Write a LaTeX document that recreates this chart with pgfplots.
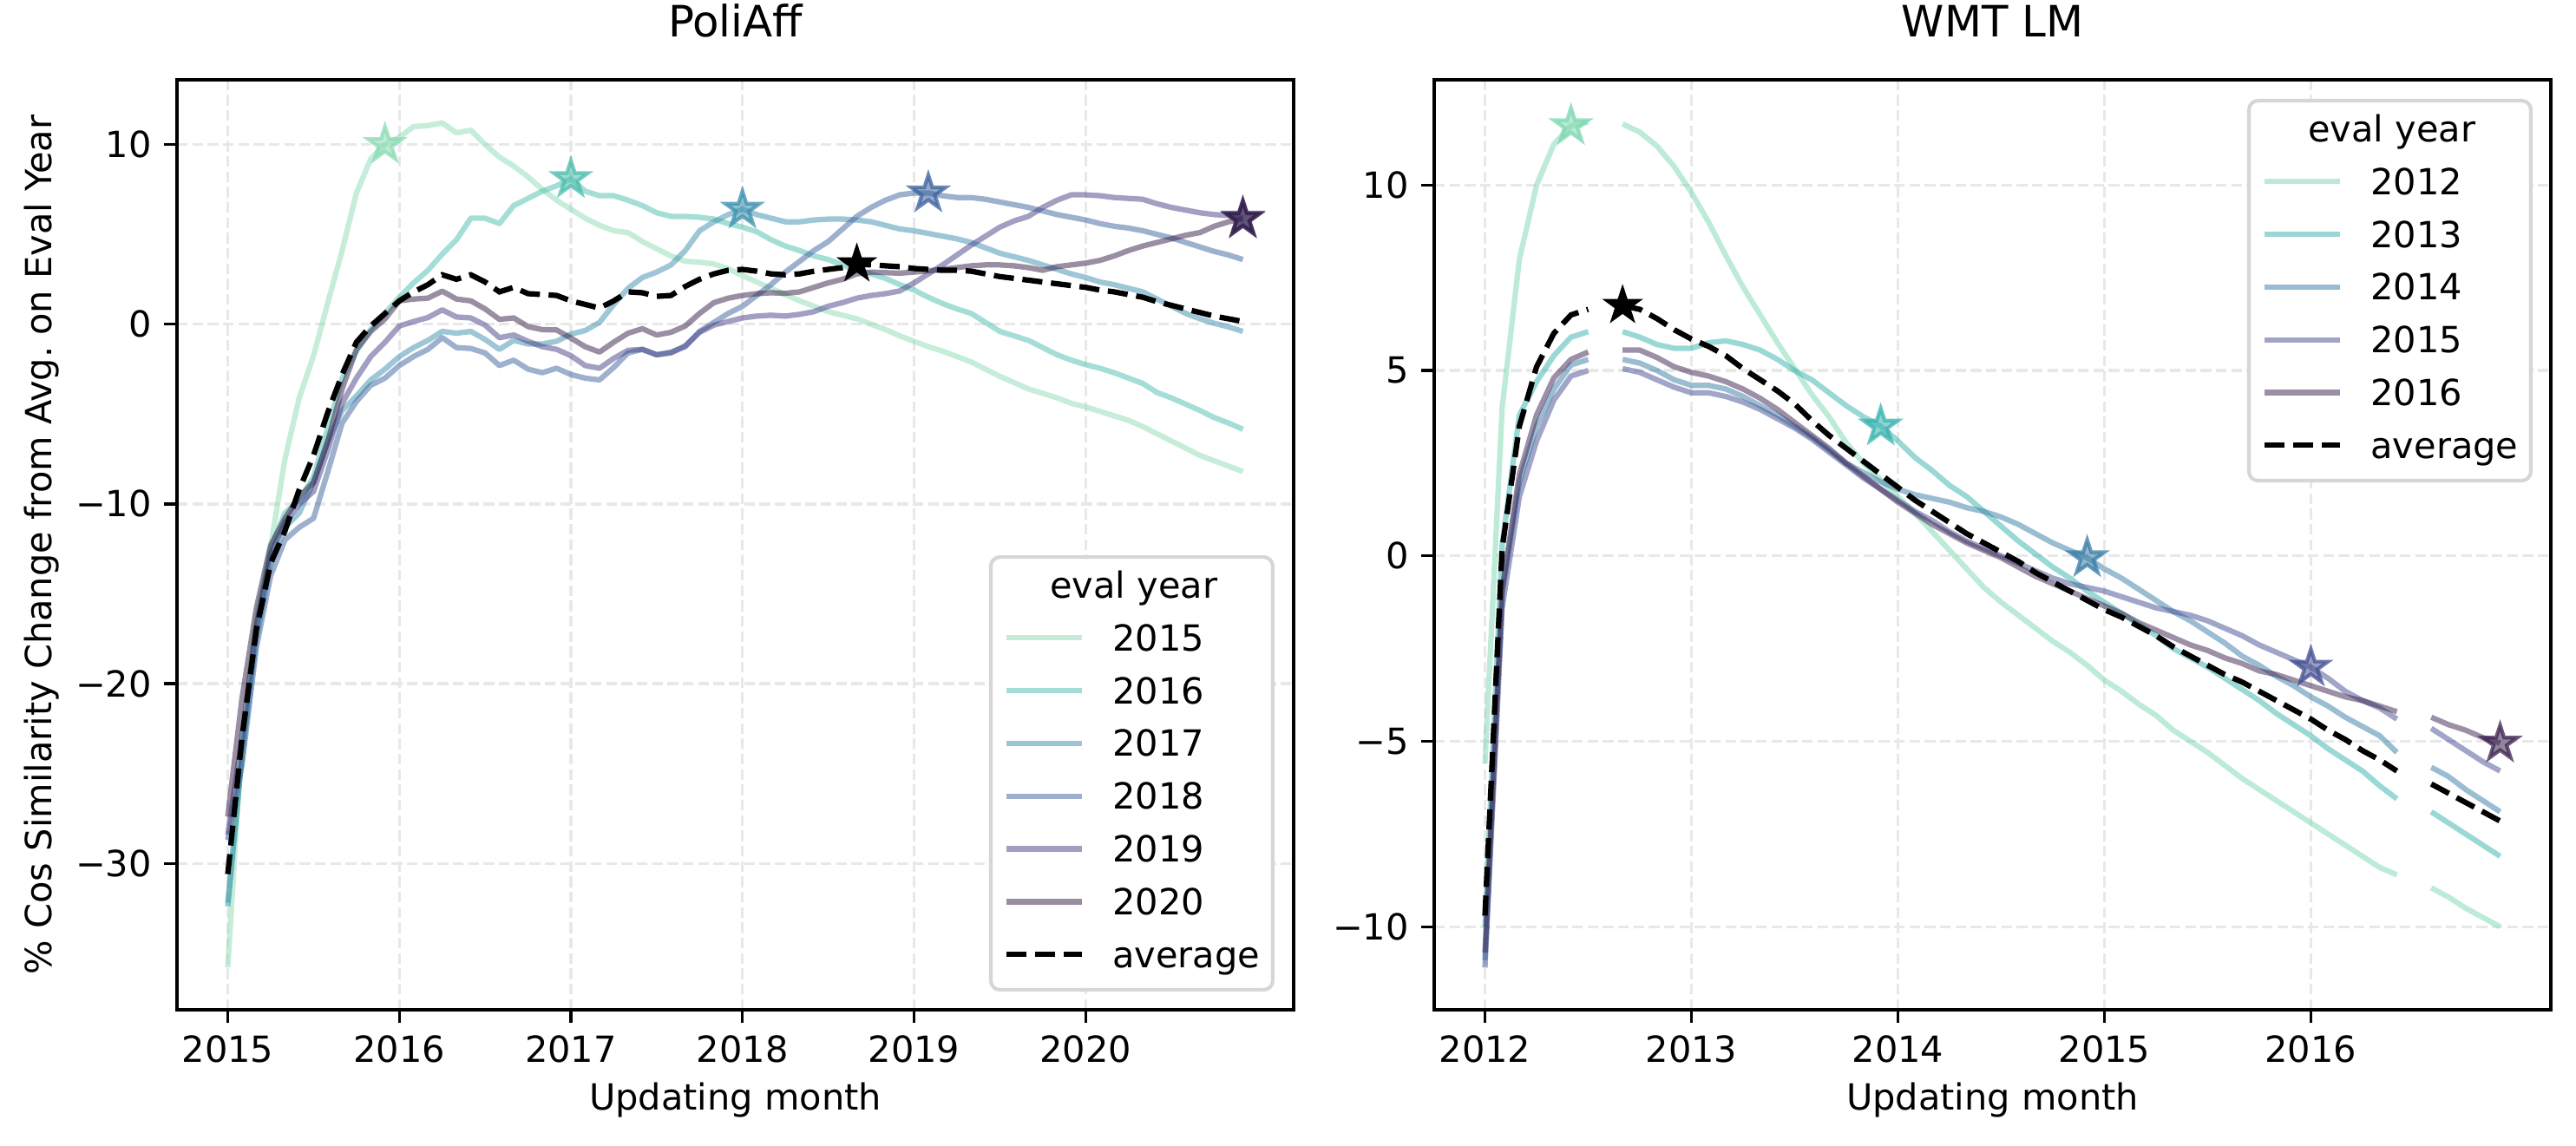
\documentclass[border=0pt]{standalone}
\usepackage{fontspec}
\setmainfont{DejaVu Sans}
\usepackage{pgfplots}
\pgfplotsset{compat=1.18}

% mako_r colours (drawn at alpha 0.5)
\definecolor{c15}{HTML}{8BDBB3}
\definecolor{c16}{HTML}{4BBDAD}
\definecolor{c17}{HTML}{3B8FAD}
\definecolor{c18}{HTML}{3B619D}
\definecolor{c19}{HTML}{453F85}
\definecolor{c20}{HTML}{331D45}
\definecolor{r12}{HTML}{7BD7AF}
\definecolor{r13}{HTML}{35B1AD}
\definecolor{r14}{HTML}{377BA5}
\definecolor{r15}{HTML}{434D91}
\definecolor{r16}{HTML}{3B214D}
\definecolor{gridc}{HTML}{E8E8E8}
\definecolor{legc}{HTML}{D6D6D6}

% filled five-pointed star
\pgfdeclareplotmark{fstar}{%
  \pgfpathmoveto{\pgfpointpolar{90}{\pgfplotmarksize}}%
  \pgfpathlineto{\pgfpointpolar{126}{0.382\pgfplotmarksize}}%
  \pgfpathlineto{\pgfpointpolar{162}{\pgfplotmarksize}}%
  \pgfpathlineto{\pgfpointpolar{198}{0.382\pgfplotmarksize}}%
  \pgfpathlineto{\pgfpointpolar{234}{\pgfplotmarksize}}%
  \pgfpathlineto{\pgfpointpolar{270}{0.382\pgfplotmarksize}}%
  \pgfpathlineto{\pgfpointpolar{306}{\pgfplotmarksize}}%
  \pgfpathlineto{\pgfpointpolar{342}{0.382\pgfplotmarksize}}%
  \pgfpathlineto{\pgfpointpolar{18}{\pgfplotmarksize}}%
  \pgfpathlineto{\pgfpointpolar{54}{0.382\pgfplotmarksize}}%
  \pgfpathclose
  \pgfusepath{fill,stroke}%
}

\pgfplotsset{
  panel/.style={
    scale only axis, width=308.88bp, height=257.28bp,
    axis line style={line width=0.8bp, black},
    tick align=outside, xtick pos=bottom, ytick pos=left,
    major tick length=3.5bp,
    every tick/.style={black, line width=0.8bp},
    xmajorgrids, ymajorgrids,
    major grid style={line width=0.8bp, gridc, dash pattern=on 2.96bp off 1.28bp},
    tick label style={font=\fontsize{10}{12}\selectfont},
    label style={font=\fontsize{10}{12}\selectfont},
    title style={font=\fontsize{12}{14}\selectfont, at={(axis description cs:0.5,1.0229)}, anchor=base},
    xlabel style={at={(axis description cs:0.5,-0.1082)}, anchor=base},
    xlabel={Updating month},
    unbounded coords=jump,
    legend cell align=left,
    legend image code/.code={\draw[#1] (0bp,1bp) -- (21bp,1bp);},
    legend style={draw=legc, line width=1bp, rounded corners=2.5bp, fill=white,
      inner xsep=3.5bp, inner ysep=3.75bp, row sep=4.6bp,
      font=\fontsize{10}{12}\selectfont,
      nodes={inner sep=0bp, text height=7.6bp, text depth=2.4bp},
      /tikz/every odd column/.append style={column sep=7.7bp}},
  },
  yr/.style={line width=1.5bp, opacity=0.5, line join=round, #1},
  avg/.style={line width=1.5bp, black, dash pattern=on 5.55bp off 2.4bp},
  st/.style={forget plot, only marks, mark=fstar, mark size=5bp,
    mark options={draw=#1, fill=#1, fill opacity=0.55, draw opacity=0.75, line width=1bp}},
}

\begin{document}
\begin{tikzpicture}

%%%%%%%%%%%%%%%% PoliAff
\begin{axis}[panel, at={(0,0)},
  title={PoliAff},
  xmin=-3.55, xmax=74.55, ymin=-38.15, ymax=13.6,
  xtick={0,12,24,36,48,60}, xticklabels={2015,2016,2017,2018,2019,2020},
  ytick={-30,-20,-10,0,10}, yticklabels={−30,−20,−10,0,10},
  ylabel={\% Cos Similarity Change from Avg.\ on Eval Year},
  ylabel style={at={(axis description cs:-0.1119,0.5)}, anchor=base},
  legend style={at={(axis description cs:0.9829,0.0196)}, anchor=south east},
]
\addlegendimage{empty legend}
\addlegendentry{\hspace*{-17.3bp}eval year}

\addplot[yr=c15] coordinates {
(0,-35.8)(1,-23)(2,-16.3)(3,-12.4)(4,-7.5)(5,-4.1)(6,-1.75)(7,1.2)(8,4.1)(9,7.3)(10,9.2)(11,10.0)
(12,10.4)(13,11.0)(14,11.05)(15,11.2)(16,10.65)(17,10.8)(18,10.0)(19,9.3)(20,8.8)(21,8.2)(22,7.5)(23,6.9)
(24,6.4)(25,5.9)(26,5.5)(27,5.2)(28,5.1)(29,4.6)(30,4.2)(31,3.8)(32,3.5)(33,3.45)(34,3.35)(35,3.1)
(36,2.7)(37,2.35)(38,2.0)(39,1.65)(40,1.3)(41,1.0)(42,0.7)(43,0.5)(44,0.3)(45,0.0)(46,-0.3)(47,-0.65)
(48,-0.95)(49,-1.25)(50,-1.5)(51,-1.8)(52,-2.1)(53,-2.5)(54,-2.9)(55,-3.25)(56,-3.6)(57,-3.85)(58,-4.1)(59,-4.4)
(60,-4.6)(61,-4.85)(62,-5.1)(63,-5.35)(64,-5.7)(65,-6.1)(66,-6.5)(67,-6.9)(68,-7.3)(69,-7.6)(70,-7.9)(71,-8.2)};
\addlegendentry{2015}
\addplot[yr=c16] coordinates {
(0,-32.2)(1,-24)(2,-17)(3,-12.5)(4,-10.5)(5,-9.8)(6,-8.5)(7,-5.8)(8,-3.0)(9,-1.5)(10,-0.3)(11,0.6)
(12,1.5)(13,2.3)(14,3.0)(15,3.9)(16,4.7)(17,5.9)(18,5.9)(19,5.6)(20,6.6)(21,7.0)(22,7.4)(23,7.7)
(24,8.1)(25,7.4)(26,7.15)(27,7.15)(28,6.9)(29,6.6)(30,6.2)(31,6.0)(32,6.0)(33,5.95)(34,5.85)(35,5.6)
(36,5.4)(37,5.15)(38,4.7)(39,4.35)(40,4.1)(41,3.8)(42,3.6)(43,3.3)(44,3.0)(45,2.8)(46,2.55)(47,2.2)
(48,1.9)(49,1.5)(50,1.15)(51,0.85)(52,0.6)(53,0.1)(54,-0.4)(55,-0.65)(56,-0.9)(57,-1.3)(58,-1.7)(59,-2.0)
(60,-2.25)(61,-2.45)(62,-2.7)(63,-3.0)(64,-3.3)(65,-3.8)(66,-4.1)(67,-4.45)(68,-4.8)(69,-5.2)(70,-5.5)(71,-5.85)};
\addlegendentry{2016}
\addplot[yr=c17] coordinates {
(0,-32.4)(1,-24)(2,-17.5)(3,-13.3)(4,-11.3)(5,-10.5)(6,-8.8)(7,-6.5)(8,-4.8)(9,-4.0)(10,-3.1)(11,-2.5)
(12,-1.8)(13,-1.3)(14,-0.9)(15,-0.4)(16,-0.5)(17,-0.4)(18,-0.85)(19,-1.4)(20,-0.9)(21,-1.1)(22,-1.1)(23,-0.95)
(24,-0.55)(25,-0.35)(26,0.1)(27,1.1)(28,2.0)(29,2.6)(30,2.9)(31,3.3)(32,4.1)(33,5.2)(34,5.7)(35,6.1)
(36,6.4)(37,6.1)(38,5.9)(39,5.7)(40,5.7)(41,5.8)(42,5.85)(43,5.85)(44,5.8)(45,5.7)(46,5.5)(47,5.3)
(48,5.2)(49,5.05)(50,4.9)(51,4.75)(52,4.55)(53,4.25)(54,3.95)(55,3.75)(56,3.55)(57,3.3)(58,3.05)(59,2.8)
(60,2.6)(61,2.35)(62,2.2)(63,2.0)(64,1.8)(65,1.4)(66,1.0)(67,0.6)(68,0.3)(69,0.05)(70,-0.15)(71,-0.4)};
\addlegendentry{2017}
\addplot[yr=c18] coordinates {
(0,-28.7)(1,-24.5)(2,-18)(3,-14)(4,-12)(5,-11.3)(6,-10.8)(7,-8.2)(8,-5.5)(9,-4.3)(10,-3.4)(11,-3.0)
(12,-2.3)(13,-1.8)(14,-1.4)(15,-0.75)(16,-1.3)(17,-1.35)(18,-1.6)(19,-2.3)(20,-2.0)(21,-2.5)(22,-2.7)(23,-2.45)
(24,-2.8)(25,-3.0)(26,-3.1)(27,-2.4)(28,-1.6)(29,-1.4)(30,-1.7)(31,-1.55)(32,-1.25)(33,-0.4)(34,0.1)(35,0.6)
(36,1.0)(37,1.6)(38,2.2)(39,2.9)(40,3.5)(41,4.1)(42,4.6)(43,5.3)(44,6.0)(45,6.5)(46,6.9)(47,7.2)
(48,7.3)(49,7.3)(50,7.15)(51,7.05)(52,7.05)(53,6.95)(54,6.8)(55,6.65)(56,6.5)(57,6.3)(58,6.1)(59,5.95)
(60,5.8)(61,5.6)(62,5.45)(63,5.35)(64,5.2)(65,5.0)(66,4.8)(67,4.55)(68,4.3)(69,4.05)(70,3.85)(71,3.6)};
\addlegendentry{2018}
\addplot[yr=c19] coordinates {
(0,-28.4)(1,-23)(2,-16.8)(3,-12.8)(4,-11.0)(5,-10.0)(6,-9.3)(7,-7.0)(8,-4.4)(9,-3.0)(10,-1.8)(11,-1.0)
(12,-0.1)(13,0.15)(14,0.37)(15,0.8)(16,0.4)(17,0.35)(18,-0.05)(19,-0.75)(20,-0.6)(21,-0.95)(22,-1.25)(23,-1.4)
(24,-1.75)(25,-2.3)(26,-2.45)(27,-1.9)(28,-1.45)(29,-1.4)(30,-1.7)(31,-1.6)(32,-1.2)(33,-0.45)(34,-0.05)(35,0.15)
(36,0.35)(37,0.45)(38,0.5)(39,0.45)(40,0.55)(41,0.7)(42,1.0)(43,1.2)(44,1.45)(45,1.6)(46,1.7)(47,1.85)
(48,2.3)(49,2.8)(50,3.3)(51,3.85)(52,4.4)(53,4.9)(54,5.4)(55,5.75)(56,6.0)(57,6.5)(58,6.9)(59,7.2)
(60,7.2)(61,7.15)(62,7.05)(63,7.0)(64,6.95)(65,6.7)(66,6.5)(67,6.35)(68,6.2)(69,6.1)(70,6.05)(71,5.9)};
\addlegendentry{2019}
\addplot[yr=c20] coordinates {
(0,-27.4)(1,-20.8)(2,-15.8)(3,-12.3)(4,-10.8)(5,-9.6)(6,-8.8)(7,-6.5)(8,-3.6)(9,-1.4)(10,-0.4)(11,0.3)
(12,1.3)(13,1.4)(14,1.45)(15,1.84)(16,1.4)(17,1.3)(18,0.85)(19,0.27)(20,0.35)(21,-0.13)(22,-0.3)(23,-0.32)
(24,-0.77)(25,-1.25)(26,-1.55)(27,-1.0)(28,-0.5)(29,-0.25)(30,-0.6)(31,-0.45)(32,-0.1)(33,0.6)(34,1.2)(35,1.45)
(36,1.6)(37,1.7)(38,1.75)(39,1.72)(40,1.8)(41,2.05)(42,2.3)(43,2.5)(44,2.8)(45,2.9)(46,2.87)(47,2.84)
(48,2.9)(49,2.97)(50,3.05)(51,3.15)(52,3.25)(53,3.3)(54,3.3)(55,3.25)(56,3.15)(57,3.0)(58,3.2)(59,3.3)
(60,3.4)(61,3.55)(62,3.8)(63,4.1)(64,4.35)(65,4.55)(66,4.75)(67,4.95)(68,5.1)(69,5.45)(70,5.7)(71,5.85)};
\addlegendentry{2020}
\addplot[avg] coordinates {
(0,-30.6)(1,-23)(2,-17.0)(3,-13.3)(4,-11.5)(5,-9.2)(6,-7.3)(7,-4.9)(8,-2.8)(9,-1.0)(10,-0.1)(11,0.6)
(12,1.3)(13,1.8)(14,2.2)(15,2.75)(16,2.5)(17,2.75)(18,2.35)(19,1.8)(20,2.05)(21,1.7)(22,1.65)(23,1.6)
(24,1.3)(25,1.1)(26,0.9)(27,1.3)(28,1.8)(29,1.75)(30,1.55)(31,1.6)(32,2.1)(33,2.5)(34,2.8)(35,3.0)
(36,3.05)(37,2.95)(38,2.8)(39,2.75)(40,2.8)(41,2.95)(42,3.05)(43,3.15)(44,3.35)(45,3.3)(46,3.25)(47,3.2)
(48,3.1)(49,3.05)(50,3.0)(51,3.0)(52,2.95)(53,2.8)(54,2.65)(55,2.55)(56,2.45)(57,2.35)(58,2.25)(59,2.15)
(60,2.05)(61,1.9)(62,1.8)(63,1.65)(64,1.5)(65,1.25)(66,1.05)(67,0.85)(68,0.65)(69,0.45)(70,0.3)(71,0.15)};
\addlegendentry{average}

\addplot[st=c15] coordinates {(11,10.0)};
\addplot[st=c16] coordinates {(24,8.1)};
\addplot[st=c17] coordinates {(36,6.4)};
\addplot[st=c18] coordinates {(49,7.3)};
\addplot[st=c19] coordinates {(71,5.9)};
\addplot[st=c20] coordinates {(71,5.85)};
\addplot[forget plot, only marks, mark=fstar, mark size=5.2bp,
  mark options={draw=black, fill=black, line width=0.5bp}] coordinates {(44,3.35)};
\end{axis}

%%%%%%%%%%%%%%%% WMT LM
\begin{axis}[panel, at={(347.76bp,0)},
  title={WMT LM},
  xmin=-2.95, xmax=61.95, ymin=-12.24, ymax=12.84,
  xtick={0,12,24,36,48}, xticklabels={2012,2013,2014,2015,2016},
  ytick={-10,-5,0,5,10}, yticklabels={−10,−5,0,5,10},
  legend style={at={(axis description cs:0.9837,0.9795)}, anchor=north east},
]
\addlegendimage{empty legend}
\addlegendentry{\hspace*{-17.3bp}eval year}

\addplot[yr=r12] coordinates {
(0,-5.6)(1,4.0)(2,8.0)(3,10.0)(4,11.1)(5,11.6)(6,11.7)(7,nan)(8,11.65)(9,11.43)(10,11.05)(11,10.5)
(12,9.8)(13,9.0)(14,8.1)(15,7.25)(16,6.5)(17,5.75)(18,5.05)(19,4.35)(20,3.75)(21,3.05)(22,2.5)(23,2.05)
(24,1.6)(25,1.15)(26,0.65)(27,0.15)(28,-0.35)(29,-0.85)(30,-1.25)(31,-1.6)(32,-1.95)(33,-2.3)(34,-2.6)(35,-2.95)
(36,-3.35)(37,-3.65)(38,-4.0)(39,-4.3)(40,-4.7)(41,-5.0)(42,-5.3)(43,-5.65)(44,-6.0)(45,-6.3)(46,-6.6)(47,-6.9)
(48,-7.2)(49,-7.5)(50,-7.8)(51,-8.1)(52,-8.4)(53,-8.6)(54,nan)(55,-8.95)(56,-9.2)(57,-9.5)(58,-9.75)(59,-10.0)};
\addlegendentry{2012}
\addplot[yr=r13] coordinates {
(0,-10.0)(1,0.3)(2,3.8)(3,4.7)(4,5.4)(5,5.9)(6,6.05)(7,nan)(8,6.05)(9,5.9)(10,5.7)(11,5.6)
(12,5.6)(13,5.75)(14,5.8)(15,5.7)(16,5.55)(17,5.3)(18,5.0)(19,4.75)(20,4.4)(21,4.05)(22,3.75)(23,3.5)
(24,3.1)(25,2.65)(26,2.3)(27,1.9)(28,1.6)(29,1.2)(30,0.8)(31,0.4)(32,0.05)(33,-0.3)(34,-0.6)(35,-0.95)
(36,-1.25)(37,-1.55)(38,-1.85)(39,-2.15)(40,-2.5)(41,-2.75)(42,-3.0)(43,-3.3)(44,-3.6)(45,-3.9)(46,-4.25)(47,-4.55)
(48,-4.85)(49,-5.2)(50,-5.5)(51,-5.8)(52,-6.2)(53,-6.55)(54,nan)(55,-6.9)(56,-7.2)(57,-7.5)(58,-7.8)(59,-8.1)};
\addlegendentry{2013}
\addplot[yr=r14] coordinates {
(0,-10.9)(1,-1.0)(2,2.0)(3,3.5)(4,4.5)(5,5.15)(6,5.3)(7,nan)(8,5.3)(9,5.2)(10,5.0)(11,4.75)
(12,4.6)(13,4.6)(14,4.5)(15,4.3)(16,4.05)(17,3.8)(18,3.5)(19,3.2)(20,2.85)(21,2.5)(22,2.25)(23,2.0)
(24,1.8)(25,1.65)(26,1.55)(27,1.45)(28,1.3)(29,1.2)(30,1.05)(31,0.85)(32,0.6)(33,0.35)(34,0.15)(35,-0.05)
(36,-0.35)(37,-0.6)(38,-0.9)(39,-1.2)(40,-1.5)(41,-1.75)(42,-2.05)(43,-2.35)(44,-2.7)(45,-2.95)(46,-3.25)(47,-3.5)
(48,-3.8)(49,-4.05)(50,-4.35)(51,-4.6)(52,-4.85)(53,-5.3)(54,nan)(55,-5.7)(56,-5.95)(57,-6.3)(58,-6.6)(59,-6.9)};
\addlegendentry{2014}
\addplot[yr=r15] coordinates {
(0,-11.1)(1,-1.4)(2,1.6)(3,3.1)(4,4.2)(5,4.85)(6,5.0)(7,nan)(8,5.05)(9,4.95)(10,4.75)(11,4.55)
(12,4.4)(13,4.4)(14,4.3)(15,4.15)(16,3.95)(17,3.7)(18,3.45)(19,3.15)(20,2.8)(21,2.45)(22,2.1)(23,1.8)
(24,1.5)(25,1.2)(26,0.95)(27,0.65)(28,0.4)(29,0.2)(30,0.0)(31,-0.2)(32,-0.4)(33,-0.6)(34,-0.75)(35,-0.85)
(36,-0.95)(37,-1.1)(38,-1.25)(39,-1.4)(40,-1.5)(41,-1.6)(42,-1.75)(43,-1.95)(44,-2.15)(45,-2.4)(46,-2.6)(47,-2.8)
(48,-3.0)(49,-3.3)(50,-3.65)(51,-3.9)(52,-4.1)(53,-4.4)(54,nan)(55,-4.65)(56,-4.95)(57,-5.25)(58,-5.55)(59,-5.8)};
\addlegendentry{2015}
\addplot[yr=r16] coordinates {
(0,-10.7)(1,-0.9)(2,2.2)(3,3.8)(4,4.8)(5,5.3)(6,5.5)(7,nan)(8,5.55)(9,5.55)(10,5.35)(11,5.1)
(12,4.95)(13,4.85)(14,4.7)(15,4.5)(16,4.25)(17,3.95)(18,3.6)(19,3.25)(20,2.9)(21,2.5)(22,2.15)(23,1.8)
(24,1.45)(25,1.15)(26,0.85)(27,0.6)(28,0.35)(29,0.15)(30,-0.05)(31,-0.3)(32,-0.55)(33,-0.75)(34,-0.95)(35,-1.15)
(36,-1.35)(37,-1.55)(38,-1.8)(39,-2.0)(40,-2.2)(41,-2.4)(42,-2.55)(43,-2.75)(44,-2.9)(45,-3.1)(46,-3.2)(47,-3.35)
(48,-3.5)(49,-3.65)(50,-3.8)(51,-3.9)(52,-4.05)(53,-4.2)(54,nan)(55,-4.35)(56,-4.55)(57,-4.7)(58,-4.9)(59,-5.05)};
\addlegendentry{2016}
\addplot[avg] coordinates {
(0,-9.7)(1,0.2)(2,3.5)(3,5.1)(4,6.0)(5,6.5)(6,6.65)(7,nan)(8,6.75)(9,6.65)(10,6.4)(11,6.1)
(12,5.85)(13,5.65)(14,5.4)(15,5.05)(16,4.75)(17,4.45)(18,4.1)(19,3.65)(20,3.25)(21,2.9)(22,2.55)(23,2.2)
(24,1.85)(25,1.5)(26,1.2)(27,0.9)(28,0.6)(29,0.35)(30,0.1)(31,-0.15)(32,-0.45)(33,-0.7)(34,-0.95)(35,-1.2)
(36,-1.45)(37,-1.65)(38,-1.9)(39,-2.15)(40,-2.45)(41,-2.7)(42,-2.95)(43,-3.2)(44,-3.4)(45,-3.65)(46,-3.9)(47,-4.15)
(48,-4.4)(49,-4.7)(50,-4.95)(51,-5.25)(52,-5.5)(53,-5.8)(54,nan)(55,-6.15)(56,-6.4)(57,-6.65)(58,-6.9)(59,-7.15)};
\addlegendentry{average}

\addplot[st=r12] coordinates {(5,11.6)};
\addplot[st=r13] coordinates {(23,3.5)};
\addplot[st=r14] coordinates {(35,-0.05)};
\addplot[st=r15] coordinates {(48,-3.0)};
\addplot[st=r16] coordinates {(59,-5.05)};
\addplot[forget plot, only marks, mark=fstar, mark size=5.2bp,
  mark options={draw=black, fill=black, line width=0.5bp}] coordinates {(8,6.75)};
\end{axis}

\pgfresetboundingbox
\useasboundingbox (-48.96bp,-37.44bp) rectangle (663.6bp,279.36bp);
\end{tikzpicture}
\end{document}
